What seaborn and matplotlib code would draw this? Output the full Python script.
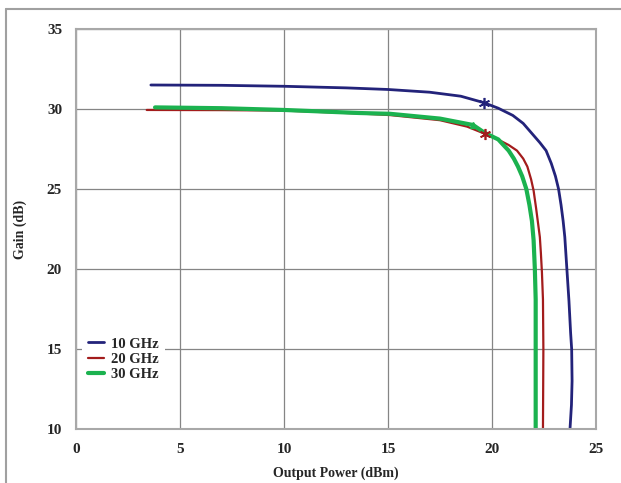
import numpy as np
import pandas as pd
import matplotlib
matplotlib.use('Agg')
import matplotlib.pyplot as plt
import seaborn as sns

# gain compression curves
p10 = [3.6, 7.0, 10.0, 13.0, 15.0, 17.0, 18.5, 19.6, 20.3, 21.0, 21.5, 21.9, 22.3, 22.6, 22.85,
       23.05, 23.2, 23.32, 23.42, 23.5, 23.6, 23.7, 23.78, 23.83, 23.85, 23.82, 23.75]
g10 = [31.5, 31.48, 31.42, 31.32, 31.22, 31.05, 30.8, 30.4, 30.05, 29.6, 29.1, 28.5, 27.9, 27.4, 26.6,
       25.8, 25.0, 24.0, 23.0, 22.0, 20.0, 18.0, 16.0, 15.0, 13.0, 11.5, 10.0]

p20 = [3.4, 7.0, 10.0, 13.6, 15.1, 17.5, 18.8, 19.66, 20.2, 20.8, 21.2, 21.5, 21.7, 21.88,
       22.0, 22.12, 22.22, 22.3, 22.35, 22.4, 22.45, 22.47, 22.45]
g20 = [29.94, 29.93, 29.9, 29.72, 29.62, 29.3, 28.9, 28.45, 28.15, 27.75, 27.4, 26.9, 26.4, 25.6,
       24.9, 23.8, 22.8, 22.0, 21.0, 19.8, 18.1, 15.0, 10.0]

p30 = [3.8, 7.0, 10.0, 13.6, 15.1, 17.5, 19.09, 19.66, 20.3, 20.8, 21.05, 21.25, 21.45, 21.65,
       21.8, 21.92, 22.0, 22.06, 22.1, 22.1, 22.1]
g30 = [30.1, 30.05, 29.94, 29.75, 29.7, 29.4, 29.0, 28.5, 28.1, 27.4, 26.9, 26.4, 25.8, 25.0,
       24.0, 23.0, 21.8, 20.0, 18.1, 15.0, 10.0]

labels = ['10 GHz', '20 GHz', '30 GHz']
colors = ['#23237a', '#a31c1c', '#1bb24f']
widths = [2.0, 1.6, 3.0]

df = pd.concat([
    pd.DataFrame({'p': p10, 'g': g10, 'f': labels[0]}),
    pd.DataFrame({'p': p20, 'g': g20, 'f': labels[1]}),
    pd.DataFrame({'p': p30, 'g': g30, 'f': labels[2]}),
])

sns.set_style('white')
plt.rcParams['font.family'] = ['Liberation Serif', 'DejaVu Serif']

fig = plt.figure(figsize=(6.21, 4.83), dpi=100)
ax = fig.add_axes([76/621, 1 - 429/483, 520/621, 400/483])

for lab, c, w in zip(labels, colors, widths):
    sns.lineplot(data=df[df.f == lab], x='p', y='g', sort=False, estimator=None,
                 color=c, linewidth=w, label=lab, ax=ax)

# markers along the curves
ax.plot(19.6, 30.4, marker=(6, 2, 0), color=colors[0], markersize=8, markeredgewidth=1.2)
ax.plot(19.66, 28.45, marker=(6, 2, 0), color=colors[1], markersize=8, markeredgewidth=1.2)
ax.plot(19.09, 29.0, marker='^', color=colors[2], markersize=5)

ax.set_xlim(0, 25)
ax.set_ylim(10, 35)
ax.set_xticks([0, 5, 10, 15, 20, 25])
ax.set_yticks([10, 15, 20, 25, 30, 35])
ax.grid(True, color='#858585', linewidth=0.9)
for s in ax.spines.values():
    s.set_color('#a8a8a8')
    s.set_linewidth(1.5)
ax.tick_params(length=0, pad=10)
for t in ax.get_xticklabels() + ax.get_yticklabels():
    t.set_fontweight('bold')
    t.set_fontsize(11)
ax.set_xlabel('Output Power (dBm)', fontsize=10, fontweight='bold', labelpad=8)
ax.set_ylabel('Gain (dB)', fontsize=10, fontweight='bold', labelpad=14)

leg = ax.legend(loc='lower left', bbox_to_anchor=(0.0, 0.09), frameon=True,
                handlelength=1.1, handletextpad=0.5, labelspacing=0.15,
                prop={'weight': 'bold', 'size': 10.5}, borderaxespad=0.4)
leg.get_frame().set_edgecolor('none')
leg.get_frame().set_facecolor('white')
leg.get_frame().set_alpha(1)

# grey page border (top and left)
fig.add_artist(plt.Line2D([6/621, 1], [1 - 9/483, 1 - 9/483], color='#a0a0a0', linewidth=1.5))
fig.add_artist(plt.Line2D([6/621, 6/621], [0, 1 - 9/483], color='#a0a0a0', linewidth=1.5))

fig.savefig('out.png', dpi=100)
